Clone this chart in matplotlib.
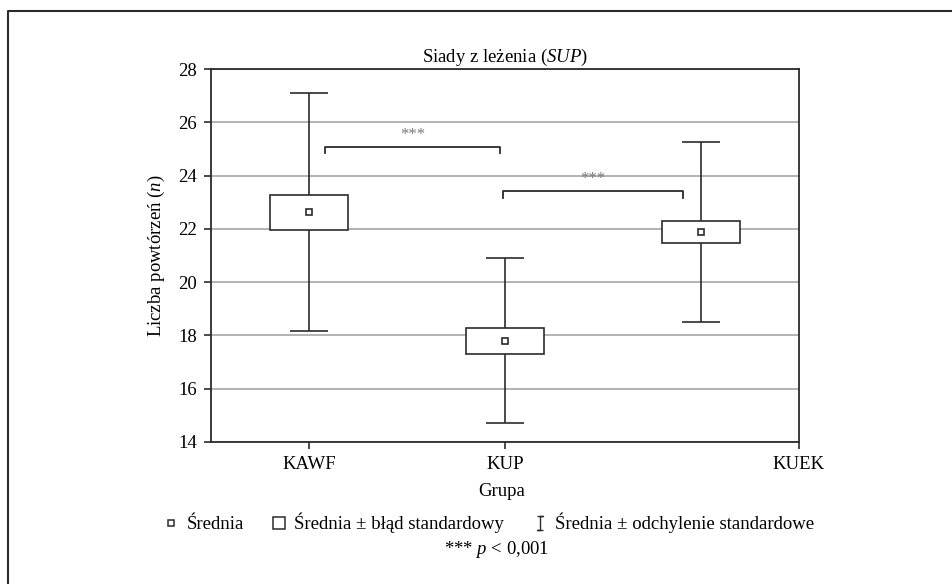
import numpy as np
import matplotlib
matplotlib.use('Agg')
import matplotlib.pyplot as plt
from matplotlib.lines import Line2D
from matplotlib.path import Path

plt.rcParams['font.family'] = ['Liberation Serif', 'DejaVu Serif']
plt.rcParams['mathtext.fontset'] = 'custom'
plt.rcParams['mathtext.rm'] = 'Liberation Serif'
plt.rcParams['mathtext.it'] = 'Liberation Serif:italic'
plt.rcParams['font.size'] = 13.5

# data
groups = ['KAWF', 'KUP', 'KUEK']
means = [22.63, 17.80, 21.87]
se = [0.655, 0.485, 0.415]
sd = [4.47, 3.09, 3.38]
# significance brackets: (x start, x end, height)
brackets = [(0.58, 1.475, 25.08), (1.49, 2.41, 23.41)]
stars = ['***', '***']

dark = '#2b2b2b'
x = np.arange(len(groups)) + 0.5

fig = plt.figure(figsize=(9.52, 5.84), dpi=100)
ax = fig.add_axes([211/952, 1-442/584, 588/952, 373/584])

ax.set_xlim(0, 3)
ax.set_ylim(14, 28)
ax.set_yticks(np.arange(14, 29, 2))
ax.yaxis.grid(True, color='#a6a6a6', lw=1.2)
ax.set_axisbelow(True)

# whiskers (mean +- sd)
ax.errorbar(x, means, yerr=sd, fmt='none', ecolor=dark, elinewidth=1.2,
            capsize=13.5, capthick=1.2, zorder=2)
# boxes (mean +- se)
ax.bar(x, 2*np.array(se), bottom=np.array(means)-np.array(se), width=0.4,
       color='white', edgecolor=dark, linewidth=1.2, zorder=3)
# means
ax.plot(x, means, ls='none', marker='s', ms=4.2, mfc='white', mec=dark,
        mew=1.2, zorder=4)

for (x0, x1, h), s in zip(brackets, stars):
    ax.plot([x0, x0, x1, x1], [h-0.25, h, h, h-0.25], color=dark, lw=1.3,
            zorder=4)
    ax.text((x0+x1)/2, h+0.15, s, ha='center', va='bottom', fontsize=12,
            color='#7a7a7a')

# odd tick placement as in the original: third label at the right edge
ax.set_xticks([x[0], x[1], 3.0])
ax.set_xticklabels(groups)
ax.tick_params(axis='x', length=5, width=1.2, color=dark, pad=5)
ax.tick_params(axis='y', length=5, width=1.2, color=dark, pad=5)
for sp in ax.spines.values():
    sp.set_color(dark)
    sp.set_linewidth(1.3)

ax.set_ylabel('Liczba powtórzeń ($n$)', labelpad=8)
ax.set_title('Siady z leżenia ($SUP$)', fontsize=13.5, pad=5)
fig.text(502/952, 1-491/584, 'Grupa', ha='center', va='center')
fig.text(497/952, 1-550/584, '*** $p$ < 0,001', ha='center', va='center')

# I-beam symbol for the whisker legend entry
ibeam = Path([(-0.5, 1), (0.5, 1), (0, 1), (0, -1), (-0.5, -1), (0.5, -1)])
handles = [
    Line2D([], [], ls='none', marker='s', ms=4, mfc='white', mec=dark, mew=1.1),
    Line2D([], [], ls='none', marker='s', ms=8.5, mfc='white', mec=dark, mew=1.1),
    Line2D([], [], ls='none', marker=ibeam, ms=10, mfc='none', mec=dark, mew=1.0),
]
labels = ['Średnia', 'Średnia ± błąd standardowy',
          'Średnia ± odchylenie standardowe']
fig.legend(handles, labels, loc='center', bbox_to_anchor=(488/952, 1-523/584),
           ncol=3, frameon=False, handlelength=1.0, handletextpad=0.3,
           columnspacing=1.4, fontsize=13.5)

# partial frame (left and top only)
fig.add_artist(Line2D([8/952, 8/952, 1.0], [0.0, 1-11/584, 1-11/584],
                      transform=fig.transFigure, color=dark, lw=1.5))

fig.savefig('out.png', dpi=100)
